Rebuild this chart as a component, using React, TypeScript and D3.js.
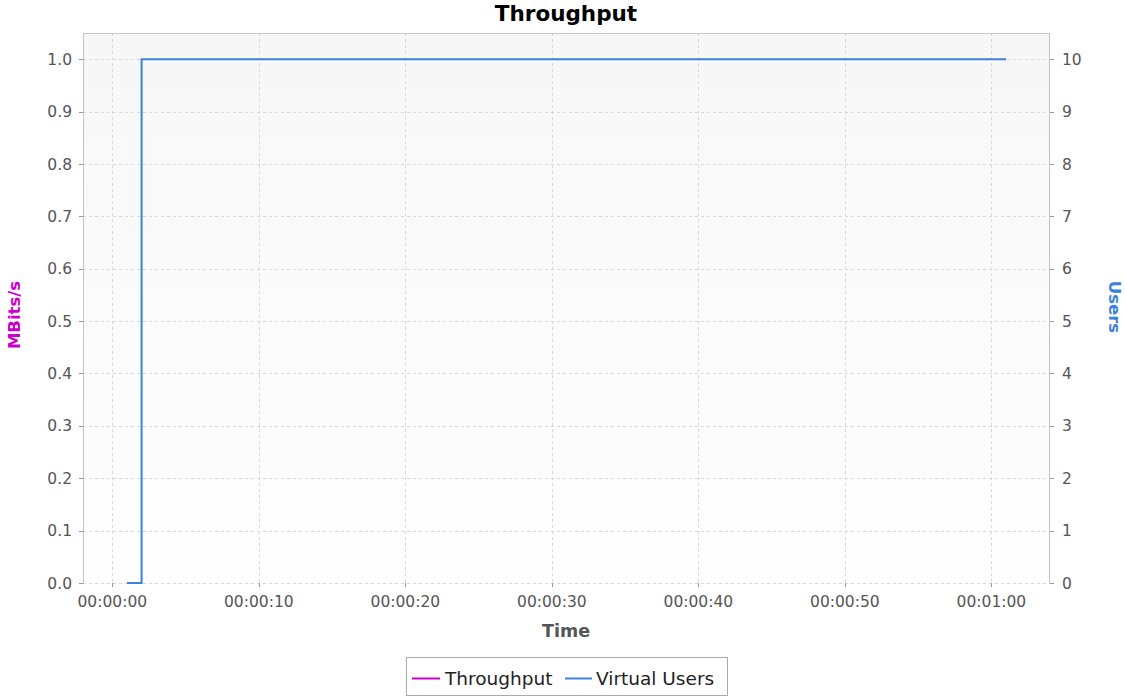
import React from "react";
import * as d3 from "d3";

// ---- Data ----
const usersTimes = [1, 2, 61]; // seconds
const usersValues = [0, 10, 10];
const throughputTimes: number[] = [];
const throughputValues: number[] = [];
const leftTicks = [0, 0.1, 0.2, 0.3, 0.4, 0.5, 0.6, 0.7, 0.8, 0.9, 1.0];
const rightTicks = [0, 1, 2, 3, 4, 5, 6, 7, 8, 9, 10];
const timeTicks = [0, 10, 20, 30, 40, 50, 60];
const legendLabels = ["Throughput", "Virtual Users"];

const W = 1125;
const H = 697;
const plot = { left: 83, top: 33, right: 1050, bottom: 583 };
const throughputColor = "#cc00cc";
const usersColor = "#3c82dc";
const FONT = "'DejaVu Sans', sans-serif";

function fmtTime(s: number) {
  const h = Math.floor(s / 3600);
  const m = Math.floor((s % 3600) / 60);
  const sec = s % 60;
  const p = (n: number) => String(n).padStart(2, "0");
  return `${p(h)}:${p(m)}:${p(sec)}`;
}

export default function App() {
  const x = d3.scaleLinear().domain([-2, 64]).range([plot.left, plot.right]);
  const yL = d3.scaleLinear().domain([0, 1.05]).range([plot.bottom, plot.top]);
  const yR = d3.scaleLinear().domain([0, 10.5]).range([plot.bottom, plot.top]);

  const usersData = usersTimes.map((t, i) => [t, usersValues[i]] as [number, number]);
  const tpData = throughputTimes.map((t, i) => [t, throughputValues[i]] as [number, number]);

  const usersLine = d3
    .line<[number, number]>()
    .x((d) => x(d[0]))
    .y((d) => yR(d[1]))
    .curve(d3.curveStepAfter);
  const tpLine = d3
    .line<[number, number]>()
    .x((d) => x(d[0]))
    .y((d) => yL(d[1]));

  const gridColor = "#d8d8d8";
  const axisColor = "#c4c4c4";
  const tickText = "#555555";

  return (
    <svg
      width={W}
      height={H}
      style={{ position: "absolute", left: 0, top: 0, background: "#ffffff" }}
      fontFamily={FONT}
    >
      <defs>
        <linearGradient id="bg" x1="0" y1="0" x2="0" y2="1">
          <stop offset="0%" stopColor="#f7f7f7" />
          <stop offset="100%" stopColor="#fefefe" />
        </linearGradient>
      </defs>
      <rect x={0} y={0} width={W} height={H} fill="#ffffff" />
      <rect
        x={plot.left}
        y={plot.top}
        width={plot.right - plot.left}
        height={plot.bottom - plot.top}
        fill="url(#bg)"
      />
      {/* horizontal grid */}
      {leftTicks.map((t) => (
        <line
          key={"hg" + t}
          x1={plot.left}
          x2={plot.right}
          y1={Math.round(yL(t)) + 0.5}
          y2={Math.round(yL(t)) + 0.5}
          stroke={gridColor}
          strokeDasharray="3,3"
        />
      ))}
      {/* vertical grid */}
      {timeTicks.map((t) => (
        <line
          key={"vg" + t}
          x1={Math.round(x(t)) + 0.5}
          x2={Math.round(x(t)) + 0.5}
          y1={plot.top}
          y2={plot.bottom}
          stroke={gridColor}
          strokeDasharray="3,3"
        />
      ))}
      {/* borders */}
      <line x1={plot.left} x2={plot.right} y1={plot.top + 0.5} y2={plot.top + 0.5} stroke={axisColor} />
      <line x1={plot.left + 0.5} x2={plot.left + 0.5} y1={plot.top} y2={plot.bottom} stroke={axisColor} />
      <line x1={plot.right - 0.5} x2={plot.right - 0.5} y1={plot.top} y2={plot.bottom} stroke={axisColor} />
      {/* left ticks */}
      {leftTicks.map((t) => (
        <g key={"lt" + t}>
          <line
            x1={plot.left - 4}
            x2={plot.left}
            y1={Math.round(yL(t)) + 0.5}
            y2={Math.round(yL(t)) + 0.5}
            stroke="#999"
          />
          <text
            x={plot.left - 11}
            y={yL(t)}
            dy="0.36em"
            textAnchor="end"
            fontSize={15.5}
            fill={tickText}
          >
            {t.toFixed(1)}
          </text>
        </g>
      ))}
      {/* right ticks */}
      {rightTicks.map((t) => (
        <g key={"rt" + t}>
          <line
            x1={plot.right}
            x2={plot.right + 4}
            y1={Math.round(yR(t)) + 0.5}
            y2={Math.round(yR(t)) + 0.5}
            stroke="#999"
          />
          <text x={plot.right + 12} y={yR(t)} dy="0.36em" textAnchor="start" fontSize={15.5} fill={tickText}>
            {t}
          </text>
        </g>
      ))}
      {/* bottom ticks */}
      {timeTicks.map((t) => (
        <g key={"bt" + t}>
          <line
            x1={Math.round(x(t)) + 0.5}
            x2={Math.round(x(t)) + 0.5}
            y1={plot.bottom}
            y2={plot.bottom + 4}
            stroke="#999"
          />
          <text x={x(t)} y={607} textAnchor="middle" fontSize={15.5} fill={tickText}>
            {fmtTime(t)}
          </text>
        </g>
      ))}
      {/* series */}
      {tpData.length > 0 && (
        <path d={tpLine(tpData) || ""} fill="none" stroke={throughputColor} strokeWidth={2} />
      )}
      <path d={usersLine(usersData) || ""} fill="none" stroke={usersColor} strokeWidth={2} />
      {/* title */}
      <text x={566} y={21} textAnchor="middle" fontSize={21.5} fontWeight="bold" fill="#000">
        Throughput
      </text>
      {/* axis labels */}
      <text x={566} y={637} textAnchor="middle" fontSize={17.5} fontWeight="bold" fill="#555">
        Time
      </text>
      <text
        transform={`translate(20,${315}) rotate(-90)`}
        textAnchor="middle"
        fontSize={16.5}
        fontWeight="bold"
        fill={throughputColor}
      >
        MBits/s
      </text>
      <text
        transform={`translate(1109,${307}) rotate(90)`}
        textAnchor="middle"
        fontSize={16.5}
        fontWeight="bold"
        fill={usersColor}
      >
        Users
      </text>
      {/* legend */}
      <rect x={406.5} y={657.5} width={321} height={38} fill="#fff" stroke="#aaa" />
      <line x1={412} x2={440} y1={678.5} y2={678.5} stroke={throughputColor} strokeWidth={2} />
      <text x={445} y={685} fontSize={18.5} fill="#222">
        {legendLabels[0]}
      </text>
      <line x1={565} x2={592} y1={678.5} y2={678.5} stroke={usersColor} strokeWidth={2} />
      <text x={596} y={685} fontSize={18.5} fill="#222">
        {legendLabels[1]}
      </text>
    </svg>
  );
}
